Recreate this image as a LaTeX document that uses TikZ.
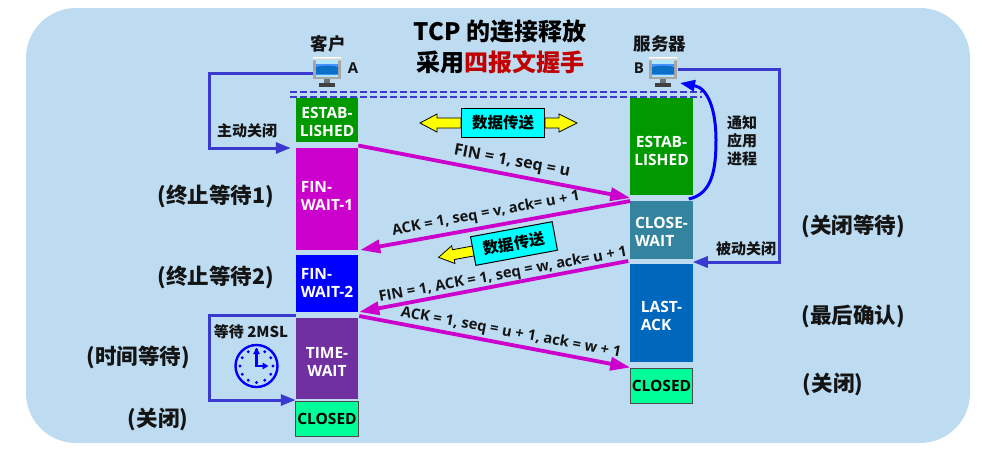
\documentclass[tikz,border=0pt]{standalone}
\usepackage{fontspec}
\setmainfont{Open Sans}
\newfontfamily\cjk{Noto Sans CJK SC}
\usetikzlibrary{arrows.meta,calc}
\definecolor{bgblue}{HTML}{BDDCF2}
\definecolor{mag}{HTML}{CC00CC}
\definecolor{lineblue}{HTML}{3A3AD0}
\definecolor{pureblue}{HTML}{0000FF}
\definecolor{purecyan}{HTML}{00FFFF}
\definecolor{pureyellow}{HTML}{FFFF00}
\definecolor{darkred}{HTML}{C00000}
\definecolor{estgreen}{HTML}{009900}
\definecolor{closegreen}{HTML}{00FF99}
\definecolor{closewait}{HTML}{34849F}
\definecolor{lastack}{HTML}{0068BC}
\definecolor{timewait}{HTML}{7030A0}
\definecolor{ink}{HTML}{141414}
\definecolor{screenblue}{HTML}{0A70C8}
\tikzset{
  statebox/.style={inner sep=0pt,outer sep=0pt,minimum width=62.5pt},
  lbl/.style={inner sep=0pt,outer sep=0pt,text=white,font=\fontsize{15.5}{18}\selectfont\bfseries},
  closedbox/.style={statebox,draw=black!70,line width=1pt,fill=closegreen,text=black,minimum height=35pt,font=\fontsize{15.5}{18}\selectfont\bfseries},
  msg/.style={-{Triangle[length=20pt,width=13pt]},draw=mag,line width=3.8pt},
  ctl/.style={-{Triangle[length=15pt,width=11pt]},draw=lineblue,line width=3pt},
  msgtext/.style={font=\fontsize{14.7}{16}\selectfont\bfseries,inner sep=0pt,text=ink},
  cn/.style={font=\cjk\fontsize{15}{18}\selectfont\bfseries,inner sep=0pt,text=ink,align=center},
  big/.style={font=\cjk\fontsize{21.5}{24}\selectfont\bfseries,inner sep=0pt,text=ink},
  ttl/.style={font=\cjk\fontsize{24}{28}\selectfont\bfseries,inner sep=0pt,text=black},
  head/.style={font=\cjk\fontsize{17.5}{20}\selectfont\bfseries,inner sep=0pt,text=ink},
  letter/.style={font=\fontsize{15}{16}\selectfont\bfseries,inner sep=0pt,text=ink},
  databox/.style={draw=black,line width=1pt,fill=purecyan,minimum width=83pt,minimum height=29pt,inner sep=0pt,font=\cjk\fontsize{15.5}{18}\selectfont\bfseries},
  yarrow/.style={draw=black,line width=.8pt,fill=pureyellow},
}
\newcommand{\pcicon}[2]{%
  \begin{scope}[shift={(#1,#2)}]
    \fill[black!35] (-14,-16) rectangle (14,6);
    \shade[top color=white,bottom color=black!25] (-14,-16) rectangle (14,-13);
    \fill[white!70!cyan] (-11,-13) rectangle (11,4);
    \fill[white!40!blue!70!cyan] (-11,-9) rectangle (11,2);
    \fill[screenblue] (-11,-6) .. controls (-3,-8) and (3,-8) .. (11,-6) -- (11,1) -- (-11,1) -- cycle;
    \fill[black!55] (-3,6) rectangle (3,10);
    \fill[black!75] (-8,10) rectangle (8,14);
  \end{scope}}
\begin{document}
\begin{tikzpicture}[x=1pt,y=-1pt]
\useasboundingbox (0,0) rectangle (987,459);
\fill[bgblue,rounded corners=50pt] (26,8) rectangle (970,443);

\node[ttl] (title1) at (500,31) {TCP 的连接释放};
\node[ttl] (title2) at (500,62) {采用\textcolor{darkred}{四报文握手}};

\pcicon{327}{73}
\pcicon{663}{73}
\coordinate (pca) at (313,73);
\coordinate (pcb) at (678,69);
\coordinate (pcbin) at (680,83);
\node[head] (hA) at (328,44) {客户};
\node[head] (hB) at (660,44) {服务器};
\node[letter] (lA) at (353,68) {A};
\node[letter] (lB) at (639,68) {B};

\coordinate (dl1) at (290,92); \coordinate (dr1) at (702,92);
\coordinate (dl2) at (290,97); \coordinate (dr2) at (702,97);
\draw[lineblue,line width=1.1pt,dash pattern=on 7pt off 3pt] (dl1) -- (dr1);
\draw[lineblue,line width=1.1pt,dash pattern=on 7pt off 3pt] (dl2) -- (dr2);

% client column
\node[statebox,fill=estgreen,minimum height=44pt,label={[lbl,align=center,yshift=-2pt]center:{ESTAB-\\LISHED}}] (aest) at (327,120) {};
\node[statebox,fill=mag,minimum height=102pt,label={[lbl,align=left,yshift=3pt]center:{FIN-\\WAIT-1}}] (afw1) at (327,199) {};
\node[statebox,fill=pureblue,minimum height=57pt,label={[lbl,align=left,yshift=1pt]center:{FIN-\\WAIT-2}}] (afw2) at (327,283.5) {};
\node[statebox,fill=timewait,minimum height=81pt,label={[lbl,align=center,yshift=-3pt]center:{TIME-\\WAIT}}] (atw) at (327,358.5) {};
\node[closedbox] (acl) at (327,418.5) {CLOSED};

% server column
\node[statebox,fill=estgreen,minimum height=97pt,label={[lbl,align=center,yshift=-4pt]center:{ESTAB-\\LISHED}}] (best) at (661.5,146.5) {};
\node[statebox,fill=closewait,minimum height=58pt,label={[lbl,align=left,yshift=-2pt]center:{CLOSE-\\WAIT}}] (bcw) at (661.5,230) {};
\node[statebox,fill=lastack,minimum height=98pt,label={[lbl,align=left,yshift=-3pt]center:{LAST-\\ACK}}] (bla) at (661.5,313) {};
\node[closedbox] (bcl) at (661.5,385.5) {CLOSED};

% messages
\draw[msg] ([yshift=-3.5pt]aest.south east) -- ([yshift=3pt]bcw.north west);
\draw[msg] ([yshift=0pt]bcw.north west) -- ([shift={(2pt,0pt)}]afw1.south east);
\draw[msg] ([shift={(-2pt,-2pt)}]bcw.south west) -- ([shift={(1pt,0pt)}]afw2.south east);
\draw[msg] ([shift={(1pt,-4pt)}]afw2.south east) -- ([yshift=-5.5pt]bla.south west);

\node[msgtext,rotate=-10.5,font=\fontsize{16}{18}\selectfont\bfseries] (m1) at (512,162) {FIN = 1, seq = u};
\node[msgtext,rotate=10.5] (m2) at (486,214) {ACK = 1, seq = v, ack= u + 1};
\node[msgtext,rotate=10.5] (m3) at (503,275) {FIN = 1, ACK = 1, seq = w, ack= u + 1};
\node[msgtext,rotate=-10.5] (m4) at (511,333) {ACK = 1, seq = u + 1, ack = w + 1};

% control lines
\draw[ctl] (pca) -| (209,148) -- ([xshift=-5pt]afw1.north west);
\node[cn] (zd) at (247,131) {主动关闭};
\draw[ctl] (pcb) -| (779,262) -- ([yshift=-3pt]bcw.south east);
\node[cn] (bd) at (746,249) {被动关闭};
\draw[ctl] ([yshift=3pt]atw.north west) -| (209,400) -- ([yshift=-1pt]atw.south west);
\node[cn] (dd) at (251,332) {等待 2MSL};
\draw[pureblue,line width=3pt,-{Triangle[length=15pt,width=11pt]}] ([xshift=-4pt,yshift=-4pt]best.south east) .. controls (712,194) and (716,170) .. (716,140) .. controls (716,110) and (708,88) .. (pcbin);
\node[cn] (tz) at (742,141) {通知\\应用\\进程};

% data arrows
\draw[yarrow] (461,118) -- (437,118) -- (437,114) -- (420,123) -- (437,132) -- (437,128) -- (461,128) -- cycle;
\draw[yarrow] (545,118) -- (559,118) -- (559,114) -- (577,123) -- (559,132) -- (559,128) -- (545,128) -- cycle;
\node[databox] (d1) at (503,123) {数据传送};

\begin{scope}[shift={(473,251)},rotate=10.5]
  \draw[yarrow] (2,-5) -- (-20,-5) -- (-20,-9) -- (-35,0) -- (-20,9) -- (-20,5) -- (2,5) -- cycle;
\end{scope}
\node[databox,rotate=10.5] (d2) at (514,243.5) {数据传送};

% clock
\begin{scope}[shift={(256.5,366)}]
  \draw[pureblue,line width=2.4pt] (0,0) circle (21);
  \foreach \a in {0,30,...,330} \fill[pureblue] (\a:16.5) circle (1.6);
  \draw[pureblue,line width=2.6pt,-{Triangle[length=6pt,width=6.5pt]}] (0,1) -- (0,-18);
  \draw[pureblue,line width=2.6pt,-{Triangle[length=6pt,width=6.5pt]}] (-1,0) -- (12,0);
\end{scope}

% side labels
\node[big] (s1) at (216,196) {(终止等待1)};
\node[big] (s2) at (216,277) {(终止等待2)};
\node[big] (s3) at (138,357) {(时间等待)};
\node[big] (s4) at (158,419) {(关闭)};
\node[big] (s5) at (853,226) {(关闭等待)};
\node[big] (s6) at (853,316) {(最后确认)};
\node[big] (s7) at (833,384) {(关闭)};
\end{tikzpicture}
\end{document}
